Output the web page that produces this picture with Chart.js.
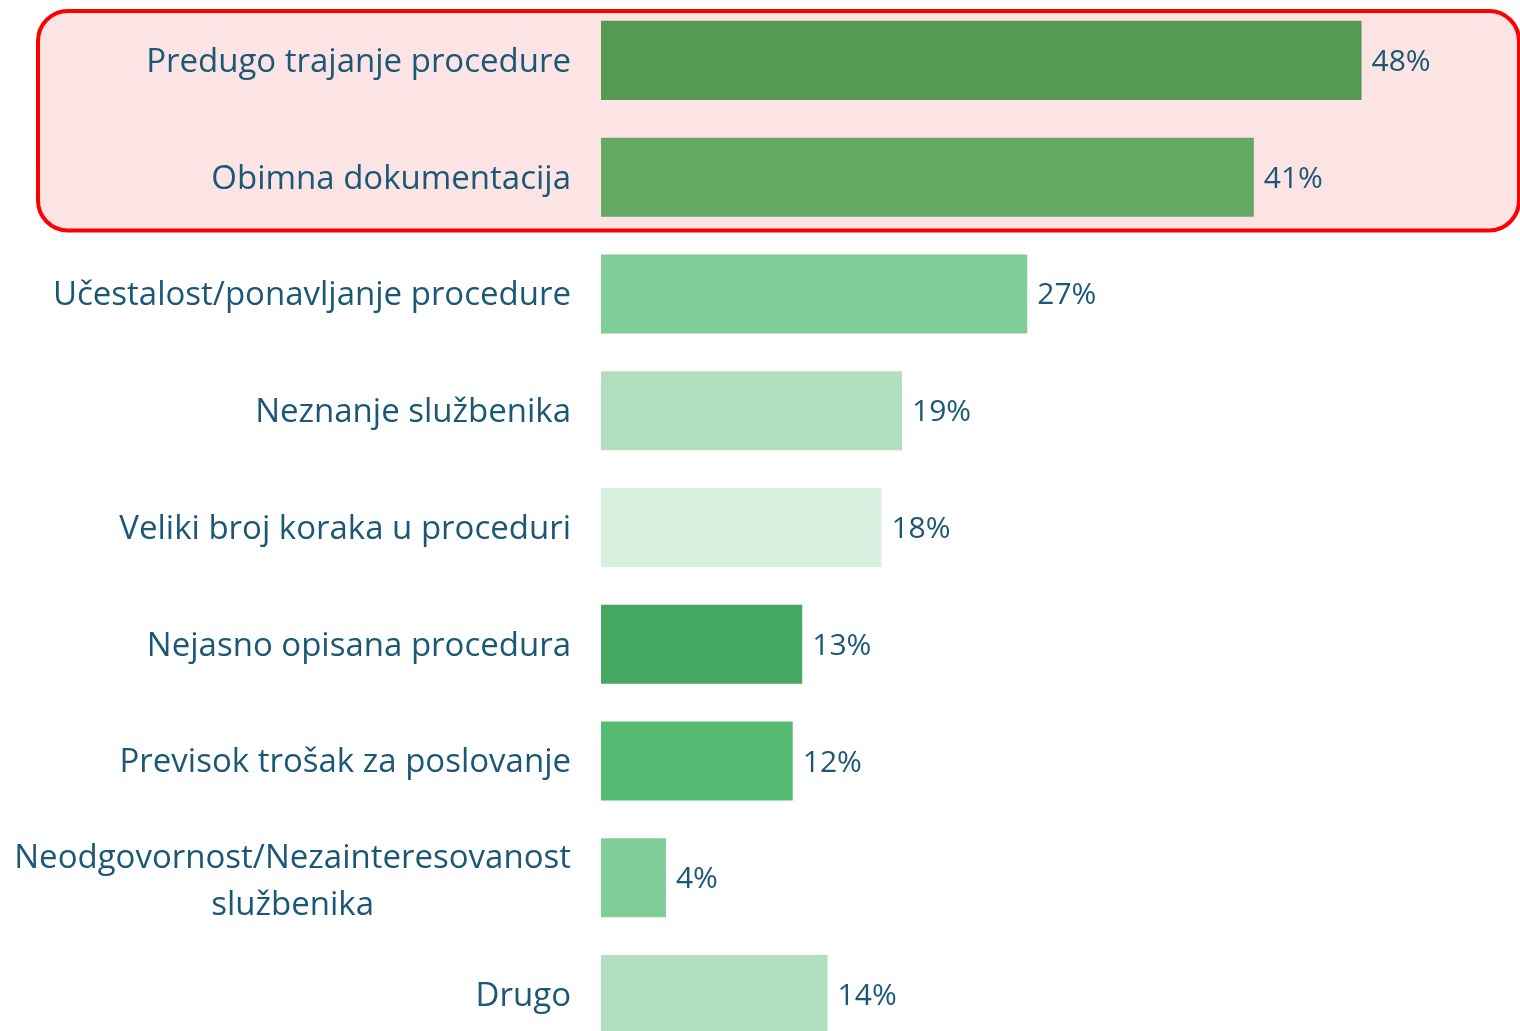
<!DOCTYPE html>
<html>
<head>
<meta charset="utf-8">
<script src="https://cdn.jsdelivr.net/npm/chart.js@4/dist/chart.umd.min.js"></script>
<style>
  html, body { margin: 0; padding: 0; background: #ffffff; overflow: hidden; }
  #wrap { width: 1520px; height: 1053px; }
</style>
</head>
<body>
<div id="wrap"><canvas id="c" width="1520" height="1053"></canvas></div>
<script>
const categories = [
  "Predugo trajanje procedure",
  "Obimna dokumentacija",
  "Učestalost/ponavljanje procedure",
  "Neznanje službenika",
  "Veliki broj koraka u proceduri",
  "Nejasno opisana procedura",
  "Previsok trošak za poslovanje",
  ["Neodgovornost/Nezainteresovanost", "službenika"],
  "Drugo"
];
const values = [48.0, 41.2, 26.9, 19.0, 17.7, 12.7, 12.1, 4.1, 14.3];
const valueLabels = ["48%", "41%", "27%", "19%", "18%", "13%", "12%", "4%", "14%"];
const barColors = ["#559955", "#64a864", "#80cc98", "#b2e0bf", "#d9f0e0", "#45a862", "#55bb72", "#80cc98", "#b2e0bf"];
const highlighted = [0, 1];

const FONT = "'Open Sans', Lato, sans-serif";
const TEXT_COLOR = "#1a5876";

const highlightPlugin = {
  id: 'highlightBox',
  beforeDatasetsDraw(chart) {
    const ctx = chart.ctx;
    const y = chart.scales.y;
    const band = (y.getPixelForValue(1) - y.getPixelForValue(0));
    const top = y.getPixelForValue(highlighted[0]) - band / 2 + 9;
    const bottom = y.getPixelForValue(highlighted[highlighted.length - 1]) + band / 2 - 5;
    const left = 38;
    const right = chart.width - 1;
    const r = 30;
    ctx.save();
    ctx.beginPath();
    ctx.roundRect(left, top, right - left, bottom - top, r);
    ctx.fillStyle = "#fde4e4";
    ctx.fill();
    ctx.lineWidth = 4;
    ctx.strokeStyle = "#ff0000";
    ctx.stroke();
    ctx.restore();
  }
};

const labelPlugin = {
  id: 'labels',
  afterDatasetsDraw(chart) {
    const ctx = chart.ctx;
    const y = chart.scales.y;
    const meta = chart.getDatasetMeta(0);
    ctx.save();
    ctx.fillStyle = TEXT_COLOR;
    ctx.textBaseline = 'middle';
    // category labels
    ctx.font = "33px " + FONT;
    const rightX = chart.chartArea.left - 30;
    categories.forEach((lab, i) => {
      const cy = y.getPixelForValue(i) + 2;
      if (Array.isArray(lab)) {
        const lh = 47;
        const w = Math.max(...lab.map(l => ctx.measureText(l).width));
        const cx = rightX - w / 2;
        ctx.textAlign = 'center';
        const start = cy - (lab.length - 1) * lh / 2 + 2;
        lab.forEach((l, k) => ctx.fillText(l, cx, start + k * lh));
      } else {
        ctx.textAlign = 'right';
        ctx.fillText(lab, rightX, cy);
      }
    });
    // value labels
    ctx.font = "30px " + FONT;
    ctx.textAlign = 'left';
    meta.data.forEach((bar, i) => {
      ctx.fillText(valueLabels[i], bar.x + 10, bar.y + 2);
    });
    ctx.restore();
  }
};

new Chart(document.getElementById('c'), {
  type: 'bar',
  data: {
    labels: categories,
    datasets: [{
      data: values,
      backgroundColor: barColors,
      borderWidth: 0,
      barPercentage: 0.677,
      categoryPercentage: 1.0
    }]
  },
  options: {
    indexAxis: 'y',
    responsive: false,
    animation: false,
    layout: { padding: { left: 601, right: 0, top: 2, bottom: 0 } },
    plugins: { legend: { display: false }, tooltip: { enabled: false } },
    scales: {
      x: { display: false, min: 0, max: 58 },
      y: { display: false }
    }
  },
  plugins: [highlightPlugin, labelPlugin]
});
</script>
</body>
</html>
